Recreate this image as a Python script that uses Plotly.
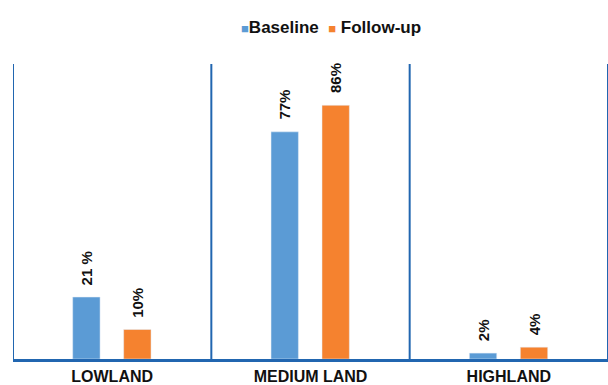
import plotly.graph_objects as go

# Share of respondents by land type, baseline vs follow-up survey
categories = ["LOWLAND", "MEDIUM LAND", "HIGHLAND"]
baseline = [21, 77, 2]
follow_up = [10, 86, 4]
baseline_labels = ["21 %", "77%", "2%"]
follow_up_labels = ["10%", "86%", "4%"]
series_names = ["Baseline", "Follow-up"]

BLUE = "#5B9BD5"
ORANGE = "#F5822F"
LINE = "#2166B0"
INK = "#111111"
FONT = "Liberation Sans, Arial, Helvetica, sans-serif"

xpos = list(range(len(categories)))
BAR_W = 0.138
OFF_BASE = -0.199
OFF_FOLLOW = 0.058

fig = go.Figure()
fig.add_trace(go.Bar(x=xpos, y=baseline, name=series_names[0], marker_color=BLUE,
                     offset=OFF_BASE, width=BAR_W))
fig.add_trace(go.Bar(x=xpos, y=follow_up, name=series_names[1], marker_color=ORANGE,
                     offset=OFF_FOLLOW, width=BAR_W))

# rotated value labels above each bar
for vals, labs, off in [(baseline, baseline_labels, OFF_BASE),
                        (follow_up, follow_up_labels, OFF_FOLLOW)]:
    for x, v, t in zip(xpos, vals, labs):
        fig.add_annotation(x=x + off + BAR_W / 2, y=v, text=t, textangle=-90,
                           showarrow=False, xanchor="center", yanchor="bottom",
                           yshift=10,
                           font=dict(size=15, color=INK, family=FONT, weight="bold"))

# vertical separators between land-type groups
for b in [-0.5, 0.5, 1.5, 2.5]:
    fig.add_shape(type="line", xref="x", yref="y", x0=b, x1=b, y0=0, y1=100,
                  line=dict(color=LINE, width=2))

# compact legend line: small colour squares followed by series names
legend_text = (
    f"<span style='color:{BLUE};font-size:13px'>■</span>{series_names[0]}  "
    f"<span style='color:{ORANGE};font-size:13px'>■</span> {series_names[1]}"
)
fig.add_annotation(xref="paper", yref="paper", x=0.5338, y=1.0, yshift=37,
                   xanchor="center", yanchor="middle", showarrow=False,
                   text=legend_text,
                   font=dict(size=17, color=INK, family=FONT, weight="bold"))

fig.update_layout(
    width=608, height=385,
    margin=dict(l=13, r=0, t=64, b=26),
    paper_bgcolor="white", plot_bgcolor="white",
    barmode="overlay",
    font=dict(family=FONT, color=INK),
    showlegend=False,
)
fig.update_xaxes(
    tickmode="array", tickvals=xpos, ticktext=categories,
    range=[-0.5, 2.5], showgrid=False, zeroline=False,
    showline=True, linecolor=LINE, linewidth=3,
    tickfont=dict(size=16, color=INK, family=FONT, weight="bold"),
    ticks="", ticklabelstandoff=1,
)
fig.update_yaxes(range=[0, 100], showgrid=False, zeroline=False,
                 showticklabels=False, showline=False)

fig.write_html("out.html")
